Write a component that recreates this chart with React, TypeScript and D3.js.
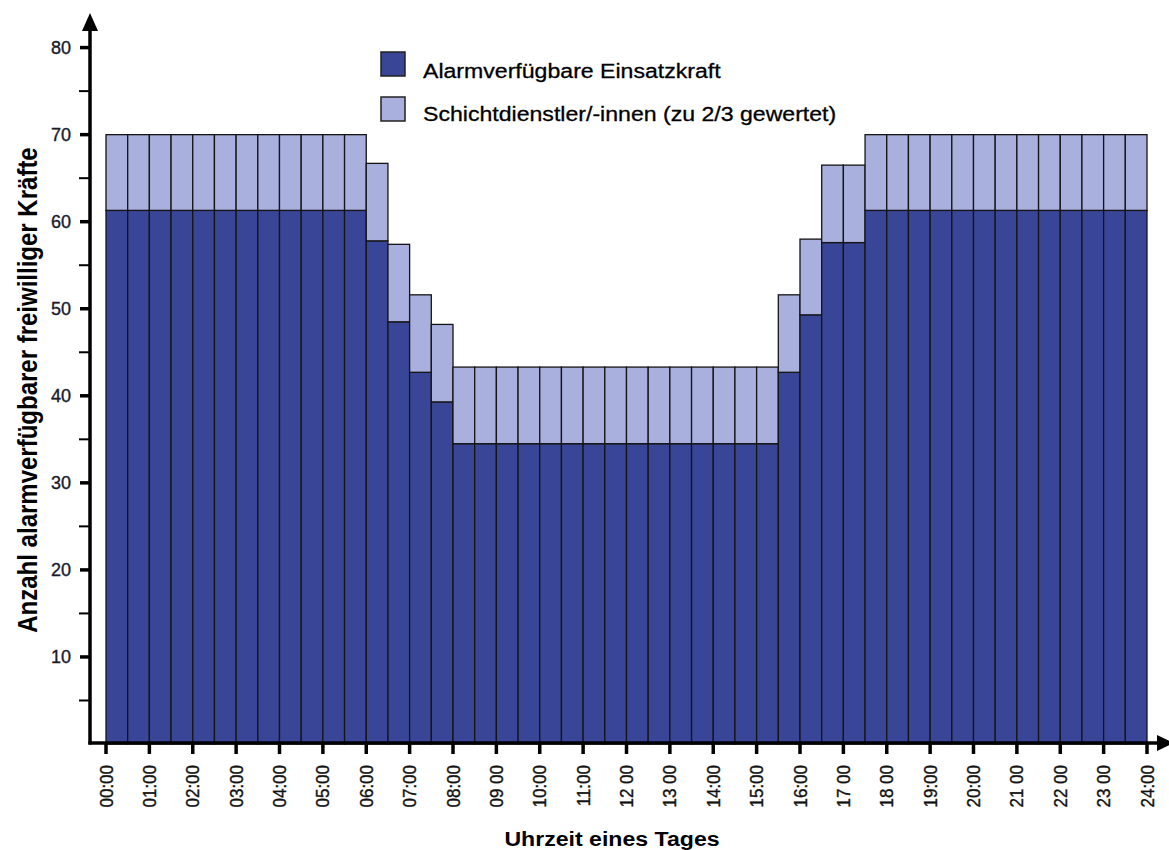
import React from "react";
import * as d3 from "d3";

// half-hour slots 00:00 .. 23:30
const alarmValues: number[] = [
  61.3, 61.3, 61.3, 61.3, 61.3, 61.3, 61.3, 61.3, 61.3, 61.3, 61.3, 61.3,
  57.8, 48.5, 42.7, 39.3,
  34.5, 34.5, 34.5, 34.5, 34.5, 34.5, 34.5, 34.5, 34.5, 34.5, 34.5, 34.5, 34.5, 34.5, 34.5,
  42.7, 49.3, 57.6, 57.6,
  61.3, 61.3, 61.3, 61.3, 61.3, 61.3, 61.3, 61.3, 61.3, 61.3, 61.3, 61.3, 61.3,
];
const shiftValues: number[] = [
  8.7, 8.7, 8.7, 8.7, 8.7, 8.7, 8.7, 8.7, 8.7, 8.7, 8.7, 8.7,
  8.9, 8.9, 8.9, 8.9,
  8.8, 8.8, 8.8, 8.8, 8.8, 8.8, 8.8, 8.8, 8.8, 8.8, 8.8, 8.8, 8.8, 8.8, 8.8,
  8.9, 8.7, 8.9, 8.9,
  8.7, 8.7, 8.7, 8.7, 8.7, 8.7, 8.7, 8.7, 8.7, 8.7, 8.7, 8.7, 8.7,
];
const hourLabels: string[] = [
  "00:00", "01:00", "02:00", "03:00", "04:00", "05:00", "06:00", "07:00", "08:00",
  "09 00", "10:00", "11:00", "12 00", "13 00", "14:00", "15:00", "16:00", "17 00",
  "18 00", "19:00", "20:00", "21 00", "22 00", "23 00", "24:00",
];
const yMajorTicks: number[] = [10, 20, 30, 40, 50, 60, 70, 80];
const yMinorTicks: number[] = [5, 15, 25, 35, 45, 55, 65, 75];
const seriesNames: string[] = ["Alarmverfügbare Einsatzkraft", "Schichtdienstler/-innen (zu 2/3 gewertet)"];
const seriesColors: string[] = ["#394698", "#a9b0de"];

const FONT = "'Liberation Sans', Arial, Helvetica, sans-serif";

export default function App() {
  const W = 1169;
  const H = 850;
  const x = d3.scaleLinear().domain([0, 24]).range([106, 1147]);
  const y = d3.scaleLinear().domain([0, 80]).range([744, 47.6]);
  const axisX = 90;
  const axisY = 743;

  const slots = alarmValues.map((a, i) => ({
    t0: i * 0.5,
    t1: (i + 1) * 0.5,
    a,
    s: shiftValues[i],
  }));

  return (
    <svg
      width={W}
      height={H}
      style={{ position: "absolute", left: 0, top: 0, background: "#fff", display: "block" }}
      fontFamily={FONT}
    >
      <rect x={0} y={0} width={W} height={H} fill="#fff" />
      {/* bars */}
      <g stroke="#151515" strokeWidth={1.3}>
        {slots.map((d, i) => (
          <g key={i}>
            <rect
              x={x(d.t0)}
              width={x(d.t1) - x(d.t0)}
              y={y(d.a)}
              height={y(0) - y(d.a)}
              fill={seriesColors[0]}
            />
            <rect
              x={x(d.t0)}
              width={x(d.t1) - x(d.t0)}
              y={y(d.a + d.s)}
              height={y(d.a) - y(d.a + d.s)}
              fill={seriesColors[1]}
            />
          </g>
        ))}
      </g>

      {/* y axis */}
      <line x1={axisX} x2={axisX} y1={axisY + 1.5} y2={28} stroke="#000" strokeWidth={3.5} />
      <path d={`M${axisX} 13 L${axisX - 8} 31 L${axisX + 8} 31 Z`} fill="#000" />
      {yMajorTicks.map((v) => (
        <g key={"ym" + v}>
          <line x1={axisX - 10} x2={axisX} y1={y(v)} y2={y(v)} stroke="#000" strokeWidth={3.5} />
          <text
            x={71}
            y={y(v)}
            dy="0.36em"
            textAnchor="end"
            fontSize={18}
            fill="#1a1a2a"
            stroke="#1a1a2a"
            strokeWidth={0.35}
          >
            {v}
          </text>
        </g>
      ))}
      {yMinorTicks.map((v) => (
        <line key={"yn" + v} x1={axisX - 11} x2={axisX} y1={y(v)} y2={y(v)} stroke="#000" strokeWidth={2} />
      ))}

      {/* x axis */}
      <line x1={axisX - 1.5} x2={1160} y1={axisY} y2={axisY} stroke="#000" strokeWidth={3.5} />
      <path d={`M1174 ${axisY} L1157 ${axisY - 8} L1157 ${axisY + 8} Z`} fill="#000" />
      {hourLabels.map((lab, h) => (
        <g key={"xh" + h}>
          <line x1={x(h)} x2={x(h)} y1={axisY} y2={axisY + 11} stroke="#000" strokeWidth={3.5} />
          <text
            transform={`translate(${x(h)},765) scale(1.07,1) rotate(-90)`}
            textAnchor="end"
            dy="0.36em"
            fontSize={17}
            fill="#111"
            stroke="#111"
            strokeWidth={0.35}
          >
            {lab}
          </text>
        </g>
      ))}

      {/* axis titles */}
      <text
        transform={`translate(612,846) scale(1.1,1)`}
        textAnchor="middle"
        fontSize={21}
        fontWeight="bold"
        fill="#000"
      >
        Uhrzeit eines Tages
      </text>
      <text
        transform={`translate(37,390) scale(1.15,1) rotate(-90)`}
        textAnchor="middle"
        fontSize={24}
        fontWeight="bold"
        fill="#000"
      >
        Anzahl alarmverfügbarer freiwilliger Kräfte
      </text>

      {/* legend */}
      {seriesNames.map((name, i) => (
        <g key={"lg" + i}>
          <rect
            x={381}
            y={52 + i * 45}
            width={24}
            height={24}
            fill={seriesColors[i]}
            stroke="#222"
            strokeWidth={1.5}
          />
          <text
            transform={`translate(423,${77.5 + i * 43.5}) scale(1.1,1)`}
            fontSize={21}
            fill="#000"
            stroke="#000"
            strokeWidth={0.3}
          >
            {name}
          </text>
        </g>
      ))}
    </svg>
  );
}
